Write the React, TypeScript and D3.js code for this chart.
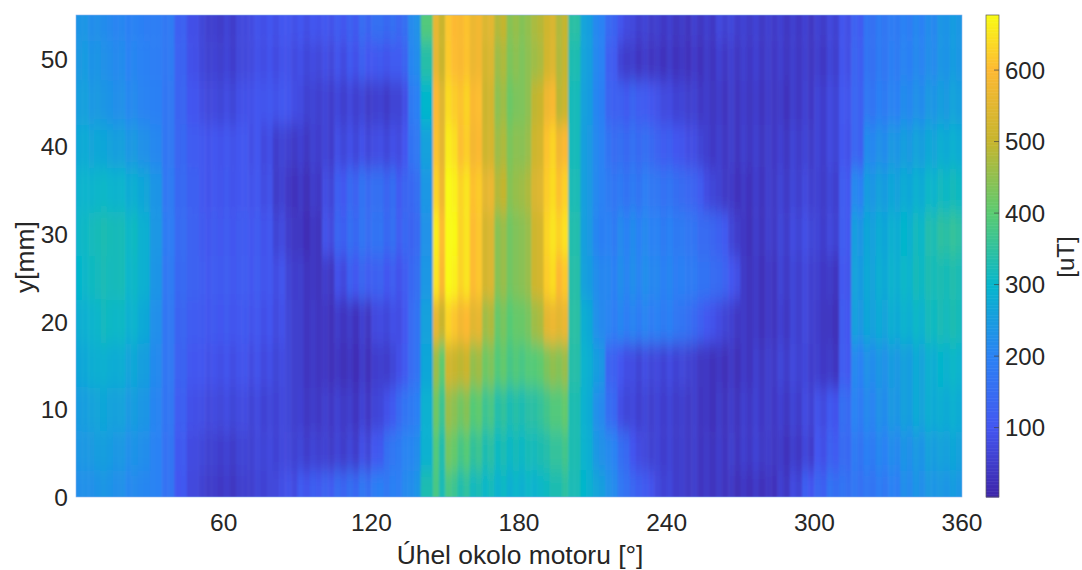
import React from "react";
import * as d3 from "d3";

const angles = d3.range(2.5, 360, 5);
const ys = [54, 50, 45, 40, 35, 30, 25, 20, 15, 10, 5, 1];
const row54 = [235,225,215,205,200,195,190,180,125,88, 62,52,58,70,85,92,95,95,95,98, 100,105,120,140,150,150,150,225,390,540, 585,600,575,545,490,450,445,480,525,490, 345,260,205,140,85,65,55,50,45,42, 48,50,65,62,55,52,52,50,48,48, 55,65,90,120,165,180,185,195,205,215, 235,245];
const row50 = [245,235,225,215,205,200,190,180,130,90, 65,58,60,68,82,88,88,85,80,75, 80,85,100,110,100,105,125,215,340,540, 590,600,575,530,470,440,440,470,530,490, 330,260,205,120,55,45,42,38,38,35, 38,42,48,50,50,48,48,48,46,46, 48,60,90,125,165,180,190,200,210,220, 235,245];
const row45 = [255,245,235,225,215,205,195,175,135,100, 78,72,75,85,95,100,100,90,70,60, 60,60,65,55,50,55,75,190,300,580, 610,620,600,515,455,425,440,500,580,500, 320,255,200,130,115,125,105,85,70,60, 52,45,40,45,45,42,45,40,45,50, 60,70,100,130,175,190,200,215,225,240, 250,260];
const row40 = [275,270,265,255,245,230,210,175,140,115, 100,98,100,100,92,80,60,50,50,55, 60,75,80,78,75,80,90,175,260,590, 630,615,590,520,470,440,450,520,620,590, 320,250,205,160,150,155,150,125,110,90, 75,50,45,45,48,45,48,50,55,55, 60,70,95,130,215,225,240,250,260,270, 280,285];
const row35 = [295,300,300,295,285,270,235,180,145,125, 100,100,102,100,98,85,55,35,35,45, 75,110,140,155,150,145,125,150,240,610, 650,640,615,560,490,450,470,540,630,620, 325,250,205,180,172,178,185,172,162,145, 122,75,50,38,38,42,50,55,60,65, 55,60,110,205,245,255,265,275,285,300, 310,315];
const row30 = [305,320,325,320,310,290,240,185,150,130, 105,108,110,108,105,98,72,45,30,35, 85,125,150,160,160,150,130,140,230,640, 660,640,610,530,450,430,450,520,640,640, 335,250,200,195,205,210,205,195,190,180, 160,145,115,60,35,40,50,60,70,75, 60,65,110,245,265,275,285,295,310,330, 345,350];
const row25 = [300,315,320,320,305,290,235,180,145,130, 110,112,112,110,108,100,90,58,45,35, 45,80,115,125,120,110,105,150,240,630, 650,640,610,530,450,430,450,520,630,610, 340,255,215,205,212,215,215,205,198,190, 175,160,135,95,40,35,40,55,60,65, 50,40,100,255,270,280,290,300,315,325, 325,330];
const row20 = [285,300,310,305,295,275,225,175,135,115, 105,105,105,102,98,92,85,60,45,40, 35,40,40,45,70,80,95,160,260,540, 600,590,555,470,420,405,420,470,560,560, 345,280,220,200,198,198,198,192,185,165, 135,100,70,50,40,35,40,50,60,65, 45,30,105,250,265,270,280,290,300,315, 320,325];
const row15 = [270,285,285,280,270,255,215,175,130,105, 95,90,90,90,85,80,75,60,45,40, 35,30,30,35,45,60,100,160,270,440, 490,500,460,425,400,385,385,400,440,450, 340,290,245,130,90,75,75,70,70,65, 48,35,30,35,40,45,50,60,65,60, 50,40,110,205,225,235,245,255,270,285, 295,300];
const row10 = [250,265,265,260,250,240,205,170,120,90, 80,75,75,75,70,65,70,60,50,45, 50,50,45,50,60,100,160,190,290,400, 430,430,400,370,345,335,335,350,380,400, 330,285,220,150,75,65,60,60,55,50, 45,35,38,42,50,50,48,50,55,70, 85,100,150,195,210,225,240,255,270,280, 280,285];
const row5 = [240,250,250,240,230,225,200,165,110,80, 65,55,55,60,65,70,70,65,60,60, 55,55,60,75,100,170,195,215,290,370, 395,385,360,335,320,315,315,325,345,365, 330,290,235,210,150,90,65,60,55,50, 45,40,42,45,50,52,45,40,45,60, 95,120,145,175,190,205,215,230,240,255, 260,265];
const row1 = [225,230,235,225,215,210,200,165,105,75, 55,45,45,50,60,65,80,85,105,115, 125,140,150,165,185,190,205,230,330,360, 350,340,320,310,300,295,295,300,320,340, 325,295,260,225,170,130,100,70,60,50, 45,40,38,35,35,35,35,50,70,110, 130,160,165,170,175,185,195,220,230,240, 240,245];
const grid = [row54, row50, row45, row40, row35, row30, row25, row20, row15, row10, row5, row1];
// fine vertical streaks, in uT, every 2.5 degrees
const streaks = [
  0,3,-3,2,4,-2,0,3,-4,2,1,-3,3,0,-2,4,-3,2,0,-2,
  5,-6,4,-4,6,-8,3,5,-5,8,-4,6,-8,5,7,-6,8,-10,5,-4,
  6,-8,10,-6,8,-10,12,-8,6,10,-10,8,-12,10,-8,6,0,0,20,-35,
  30,15,-8,10,-6,6,-5,8,-8,8,-8,6,-6,8,-6,5,-8,10,-10,8,
  0,0,5,-6,8,-6,5,-8,10,-6,8,-10,8,-6,6,-8,10,-8,6,-6,
  8,-10,6,-8,10,-6,8,-10,6,-8,10,-8,6,-6,8,-10,8,-6,10,-8,
  6,-8,8,-6,6,-5,8,-6,5,-4,6,-5,4,-3,5,-4,6,-5,4,-3,
  4,-3,5,-4,
];

const xTicks = [60, 120, 180, 240, 300, 360];
const yTicks = [0, 10, 20, 30, 40, 50];
const cTicks = [100, 200, 300, 400, 500, 600];
const colorValues = [3, 100, 200, 300, 400, 500, 600, 677];
const colorStops = ["#3e26a8", "#4356f0", "#2b82f4", "#06b6cc", "#5acb72", "#c6b52e", "#fdb933", "#f9fb15"];

const L = 76, R = 962, T = 15, B = 497;
const CL = 986, CR = 999;
const ink = "#262626";
const font = "'Liberation Sans', Arial, sans-serif";

export default function App() {
  const x = d3.scaleLinear().domain([0, 360]).range([L, R]);
  const y = d3.scaleLinear().domain([0, 55]).range([B, T]);
  const cy = d3.scaleLinear().domain([3, 677]).range([B, T]);
  const color = d3.scaleLinear<string>().domain(colorValues).range(colorStops).interpolate(d3.interpolateRgb).clamp(true);
  const edges = ys.map((v, i) => ({
    top: i === 0 ? 70 : (ys[i - 1] + v) / 2,
    bottom: i === ys.length - 1 ? -15 : (ys[i + 1] + v) / 2,
  }));
  return (
    <svg width={1082} height={570} style={{ position: "absolute", left: 0, top: 0 }} fontFamily={font}>
      <defs>
        <clipPath id="plot"><rect x={L} y={T} width={R - L} height={B - T} /></clipPath>
        <filter id="soft" x={-100} y={-100} width={1300} height={800} filterUnits="userSpaceOnUse">
          <feGaussianBlur stdDeviation="1 9" />
        </filter>
      </defs>
      <g clipPath="url(#plot)">
        <g filter="url(#soft)">
          {grid.map((row, r) =>
            row.flatMap((v, c) =>
              [0, 1].map((h) => {
                const a0 = angles[c] - 2.5 + h * 2.5;
                const x0 = c === 0 && h === 0 ? x(-15) : x(a0);
                const x1 = c === angles.length - 1 && h === 1 ? x(375) : x(a0 + 2.5);
                return (
                  <rect key={`${r}-${c}-${h}`} x={x0} width={x1 - x0 + 0.5} y={y(edges[r].top)}
                    height={y(edges[r].bottom) - y(edges[r].top) + 0.5} fill={color(v + streaks[2 * c + h])} />
                );
              })
            )
          )}
        </g>
      </g>
      <rect x={L} y={T} width={R - L} height={B - T} fill="none" stroke="#8fb4ee" strokeWidth={0.6} />
      {xTicks.map((t) => (
        <text key={t} x={x(t)} y={531} textAnchor="middle" fontSize={24.5} fill={ink}>{t}</text>
      ))}
      {yTicks.map((t) => (
        <text key={t} x={68} y={y(t) + 9} textAnchor="end" fontSize={24.5} fill={ink}>{t}</text>
      ))}
      <text x={520} y={564} textAnchor="middle" fontSize={26.4} fill={ink}>Úhel okolo motoru [°]</text>
      <text transform="translate(34,257) rotate(-90)" textAnchor="middle" fontSize={26.4} fill={ink}>y[mm]</text>
      {d3.range(3, 677, 2).map((v) => (
        <rect key={v} x={CL} width={CR - CL} y={cy(v + 2)} height={cy(v) - cy(v + 2) + 0.5} fill={color(v + 1)} />
      ))}
      <rect x={CL} y={T} width={CR - CL} height={B - T} fill="none" stroke="#5a5a5a" strokeWidth={0.7} />
      {cTicks.map((t) => (
        <g key={t}>
          <line x1={CR - 5} x2={CR} y1={cy(t)} y2={cy(t)} stroke="#404040" strokeWidth={0.7} />
          <text x={1005} y={cy(t) + 8.5} fontSize={24} fill={ink}>{t}</text>
        </g>
      ))}
      <text transform="translate(1074,257) rotate(-90)" textAnchor="middle" fontSize={24} fill={ink}>[uT]</text>
    </svg>
  );
}
